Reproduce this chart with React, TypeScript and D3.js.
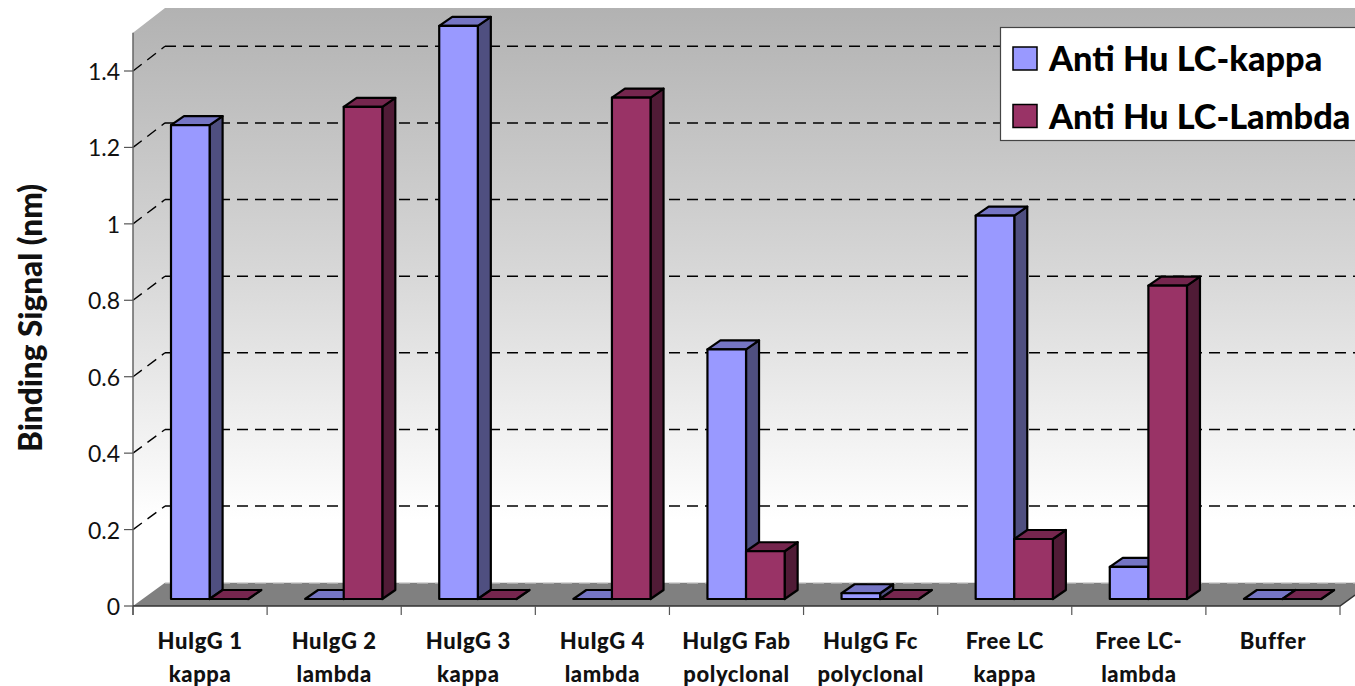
import * as d3 from "d3";

const categories = [
  ["HuIgG 1", "kappa"],
  ["HuIgG 2", "lambda"],
  ["HuIgG 3", "kappa"],
  ["HuIgG 4", "lambda"],
  ["HuIgG Fab", "polyclonal"],
  ["HuIgG Fc", "polyclonal"],
  ["Free LC", "kappa"],
  ["Free LC-", "lambda"],
  ["Buffer", ""],
];
const kappaValues = [1.24, 0, 1.5, 0, 0.653, 0.015, 1.003, 0.084, 0];
const lambdaValues = [0, 1.288, 0, 1.312, 0.125, 0, 0.157, 0.82, 0];
const yTicks = [0, 0.2, 0.4, 0.6, 0.8, 1, 1.2, 1.4];
const seriesNames = ["Anti Hu LC-kappa", "Anti Hu LC-Lambda"];
const palettes = [
  { front: "#9999ff", top: "#7575c4", side: "#4f4f80" },
  { front: "#993366", top: "#75264e", side: "#501b36" },
];

const FONT = "Lato, 'Open Sans', sans-serif";
const WALL_DX = 32;
const BAR_DX = 13;
const BAR_DY = -9;
const BAR_W = 38.6;
const BAR_OFFSET_Y = -7;

// Front edge of the walls and the plane the gridlines recede to
const y = d3.scaleLinear().domain([0, 1.4]).range([606, 71]);
const yBack = d3.scaleLinear().domain([0, 1.4]).range([582.7, 46.3]);
const x = d3.scaleBand<number>().domain(d3.range(categories.length)).range([133, 1340]);
const poly = d3.line();

function Bar({ left, value, colors }: { left: number; value: number; colors: (typeof palettes)[0] }) {
  const base = y(0) + BAR_OFFSET_Y;
  const top = y(value) + BAR_OFFSET_Y;
  const r = left + BAR_W;
  const common = { stroke: "#000", strokeWidth: 2.2, strokeLinejoin: "round" as const };
  return (
    <g>
      <path
        d={poly([[r, top], [r + BAR_DX, top + BAR_DY], [r + BAR_DX, base + BAR_DY], [r, base]])! + "Z"}
        fill={colors.side}
        {...common}
      />
      <path
        d={poly([[left, top], [left + BAR_DX, top + BAR_DY], [r + BAR_DX, top + BAR_DY], [r, top]])! + "Z"}
        fill={colors.top}
        {...common}
      />
      <rect x={left} y={top} width={BAR_W} height={base - top} fill={colors.front} {...common} />
    </g>
  );
}

export default function App() {
  const floorY = y(0);
  const backFloorY = yBack(0);
  const wallLeft = 133;
  const backLeft = wallLeft + WALL_DX;
  const wallTopFront = y(1.5);
  const wallTopBack = yBack(1.5);
  const step = x.bandwidth();

  return (
    <svg
      width={1355}
      height={686}
      style={{ position: "absolute", left: 0, top: 0, display: "block", background: "#fff" }}
      fontFamily={FONT}
    >
      <defs>
        <linearGradient id="wall" gradientUnits="userSpaceOnUse" x1="0" x2="0" y1={wallTopBack} y2={520}>
          <stop offset="0" stopColor="#b2b2b2" />
          <stop offset="0.5" stopColor="#d6d6d6" />
          <stop offset="1" stopColor="#ffffff" />
        </linearGradient>
      </defs>

      {/* Back and side walls */}
      <path
        d={poly([[wallLeft, wallTopFront], [backLeft, wallTopBack], [1355, wallTopBack], [1355, backFloorY], [backLeft, backFloorY], [wallLeft, floorY]])! + "Z"}
        fill="url(#wall)"
      />

      {/* Floor */}
      <path
        d={poly([[wallLeft, floorY], [backLeft, backFloorY], [1355, backFloorY], [1355, floorY - 11], [1340, floorY]])! + "Z"}
        fill="#808080"
      />

      {/* Gridlines across both walls */}
      {yTicks.map((t) => (
        <g key={t} fill="none" stroke={t === 0 ? "#d8d8d8" : "#000"} strokeWidth={1.4}>
          {t > 0 && (
            <path d={poly([[wallLeft, y(t)], [backLeft, yBack(t)]])!} strokeDasharray="11 7" />
          )}
          <line x1={backLeft} x2={1355} y1={yBack(t)} y2={yBack(t)} strokeDasharray="11 7" />
        </g>
      ))}

      {/* Front axes */}
      <line x1={wallLeft} x2={wallLeft} y1={wallTopFront} y2={floorY + 9} stroke="#666" strokeWidth={1.5} />
      <path d={poly([[wallLeft, floorY], [1340, floorY], [1355, floorY - 11]])!} fill="none" stroke="#333" strokeWidth={1.5} />
      {yTicks.map((t) => (
        <g key={t}>
          <line x1={124} x2={wallLeft} y1={y(t)} y2={y(t)} stroke="#555" strokeWidth={1.2} />
          <text x={120} y={y(t) + 9} textAnchor="end" fontSize={23} fill="#111">
            {t}
          </text>
        </g>
      ))}
      {d3.range(categories.length + 1).map((i) => {
        const tx = 133 + i * step;
        return <line key={i} x1={tx} x2={tx} y1={floorY} y2={floorY + 9} stroke="#555" strokeWidth={1.2} />;
      })}

      {/* Bars, kappa before lambda so the lambda front covers the kappa side */}
      {categories.map((_, i) => {
        const left = x(i)! + 38;
        return (
          <g key={i}>
            <Bar left={left} value={kappaValues[i]} colors={palettes[0]} />
            <Bar left={left + BAR_W} value={lambdaValues[i]} colors={palettes[1]} />
          </g>
        );
      })}

      {/* Category labels */}
      {categories.map(([a, b], i) => {
        const cx = x(i)! + step / 2;
        return (
          <text key={i} textAnchor="middle" fontSize={22} fontWeight={900} fill="#111" letterSpacing={0.6}>
            <tspan x={cx} y={649}>{a}</tspan>
            {b && <tspan x={cx} y={682}>{b}</tspan>}
          </text>
        );
      })}

      {/* Value axis title */}
      <text
        transform="translate(42,318) rotate(-90)"
        textAnchor="middle"
        fontSize={31.5}
        fontWeight={900}
        fill="#111"
      >
        Binding Signal (nm)
      </text>

      {/* Legend */}
      <rect x={1000.5} y={27.5} width={360} height={113} fill="#fff" stroke="#444" strokeWidth={1.2} />
      {seriesNames.map((name, i) => {
        const rowY = 47 + i * 57.5;
        return (
          <g key={name}>
            <rect x={1013} y={rowY} width={24} height={23} fill={palettes[i].front} stroke="#000" strokeWidth={1.5} />
            <text x={1049} y={rowY + 24} fontSize={34.3} fontWeight={900} fill="#000">
              {name}
            </text>
          </g>
        );
      })}
    </svg>
  );
}
